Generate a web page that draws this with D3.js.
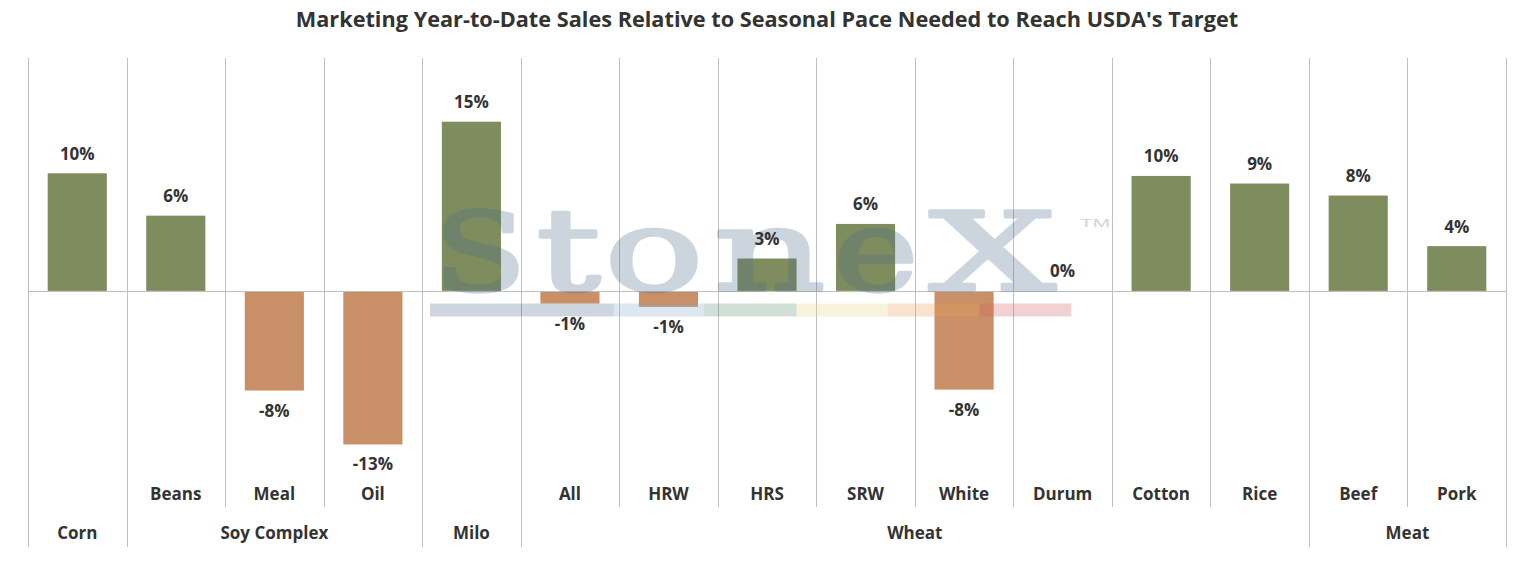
<!DOCTYPE html>
<html><head><meta charset="utf-8">
<script src="https://cdn.jsdelivr.net/npm/d3@7"></script>
<style>
html,body{margin:0;padding:0;background:#fff;}
svg{display:block;}
</style></head>
<body>
<svg id="chart" width="1534" height="570"></svg>
<script>
const title = "Marketing Year-to-Date Sales Relative to Seasonal Pace Needed to Reach USDA's Target";
const categories = ["Corn","Beans","Meal","Oil","Milo","All","HRW","HRS","SRW","White","Durum","Cotton","Rice","Beef","Pork"];
const subLabels = ["","Beans","Meal","Oil","","All","HRW","HRS","SRW","White","Durum","Cotton","Rice","Beef","Pork"];
const groups = [
  {name:"Corn", start:0, end:0},
  {name:"Soy Complex", start:1, end:3},
  {name:"Milo", start:4, end:4},
  {name:"Wheat", start:5, end:12},
  {name:"Meat", start:13, end:14}
];
const values = [10.1, 6.46, -8.47, -13.1, 14.53, -1.0, -1.29, 2.78, 5.75, -8.39, 0.0, 9.87, 9.22, 8.19, 3.84];
const yDomain = [-16, 20];
// watermark stripe: first segment double width
const stripeColors = ["#cdd5df","#cdd5df","#dce7f0","#d0e0d6","#f8f3dc","#f9e3cf","#f2d1d2"];

const svg = d3.select("#chart");
const plotLeft = 28, plotRight = 1506, plotTop = 58;
const x = d3.scaleBand().domain(categories).range([plotLeft, plotRight]).paddingInner(0).paddingOuter(0);
const y = d3.scaleLinear().domain(yDomain).range([477.2, plotTop]);
const bw = x.bandwidth();
const barW = bw * 0.6;
const FONT = "'Open Sans', 'Noto Sans', sans-serif";
const green = "#7e8c5e", orange = "#c98f66", txt = "#333333", grid = "#bfbfbf";
const fmt = d => Math.round(d).toString().replace("\u2212","-") + "%";

// overlay colour giving target colour on white with alpha a
const ALPHA = 0.28;
function overlay(hex, a) {
  const c = d3.rgb(hex);
  const f = v => Math.max(0, Math.min(255, Math.round((v - (1-a)*255)/a)));
  return d3.rgb(f(c.r), f(c.g), f(c.b)).formatHex();
}

// title
svg.append("text").attr("x", (plotLeft+plotRight)/2).attr("y", 27)
  .attr("text-anchor","middle").attr("font-family",FONT).attr("font-weight","bold")
  .attr("font-size",21.7).attr("fill",txt).text(title);

// vertical gridlines (category separators)
const groupBounds = new Set();
groups.forEach(g => { groupBounds.add(g.start); groupBounds.add(g.end+1); });
for (let i = 0; i <= categories.length; i++) {
  const xx = i < categories.length ? x(categories[i]) : plotRight;
  const full = groupBounds.has(i);
  svg.append("line").attr("x1", Math.round(xx)+0.5).attr("x2", Math.round(xx)+0.5)
    .attr("y1", plotTop).attr("y2", full ? 547 : 507)
    .attr("stroke", grid).attr("stroke-width",1);
}

// bars
svg.append("g").selectAll("rect").data(values).join("rect")
  .attr("x", (d,i) => x(categories[i]) + (bw-barW)/2)
  .attr("width", barW)
  .attr("y", d => d >= 0 ? y(d) : y(0)+1)
  .attr("height", d => Math.abs(y(d) - y(0)))
  .attr("fill", d => d >= 0 ? green : orange);

// zero axis
svg.append("line").attr("x1", plotLeft).attr("x2", plotRight)
  .attr("y1", Math.round(y(0))+0.5).attr("y2", Math.round(y(0))+0.5)
  .attr("stroke", grid).attr("stroke-width",1);

// watermark stripe
const stripeX = d3.scaleLinear().domain([0, stripeColors.length]).range([430, 1071]);
svg.append("g").selectAll("rect").data(stripeColors).join("rect")
  .attr("x", (d,i) => stripeX(i)).attr("width", stripeX(1)-stripeX(0)+0.3)
  .attr("y", 303.5).attr("height", 13).attr("fill", d => overlay(d, 0.3))
  .attr("fill-opacity", 0.3);

// watermark text
const wmColor = overlay("#cdd5de", ALPHA);
const wm = [
  {c:"S", x0:432, x1:528, fs:108},
  {c:"t", x0:535, x1:602, fs:114},
  {c:"o", x0:603, x1:705, fs:114},
  {c:"n", x0:712, x1:827, fs:114},
  {c:"e", x0:832, x1:920, fs:114},
  {c:"X", x0:928, x1:1057, fs:108}
];
const wg = svg.append("g").attr("fill", wmColor).attr("stroke", wmColor)
  .attr("stroke-width", 3.5).attr("stroke-linejoin","round").attr("opacity", ALPHA);
wm.forEach(l => {
  wg.append("text").attr("x", l.x0 + 1.5).attr("y", 289.5)
    .attr("font-family","'DejaVu Serif', 'Liberation Serif', serif")
    .attr("font-size", l.fs).attr("textLength", l.x1-l.x0-3).attr("lengthAdjust","spacingAndGlyphs")
    .text(l.c);
});
wg.append("text").attr("x",1080).attr("y",226.5).attr("font-family","'Liberation Sans', sans-serif")
  .attr("stroke-width",0)
  .attr("font-size",11.5).attr("textLength",30).attr("lengthAdjust","spacingAndGlyphs")
  .text("TM");

// data labels
svg.append("g").selectAll("text").data(values).join("text")
  .attr("x", (d,i) => x(categories[i]) + bw/2)
  .attr("y", d => d >= 0 ? y(d) - 13.5 : y(d) + 27)
  .attr("text-anchor","middle").attr("font-family",FONT).attr("font-weight","bold")
  .attr("font-size",17).attr("fill",txt)
  .text(fmt);

// sub labels
svg.append("g").selectAll("text").data(subLabels).join("text")
  .attr("x", (d,i) => x(categories[i]) + bw/2).attr("y", 500)
  .attr("text-anchor","middle").attr("font-family",FONT).attr("font-weight","bold")
  .attr("font-size",17).attr("fill",txt).text(d => d);

// group labels
svg.append("g").selectAll("text").data(groups).join("text")
  .attr("x", g => (x(categories[g.start]) + x(categories[g.end]) + bw)/2).attr("y", 539)
  .attr("text-anchor","middle").attr("font-family",FONT).attr("font-weight","bold")
  .attr("font-size",17).attr("fill",txt).text(g => g.name);
</script>
</body></html>
